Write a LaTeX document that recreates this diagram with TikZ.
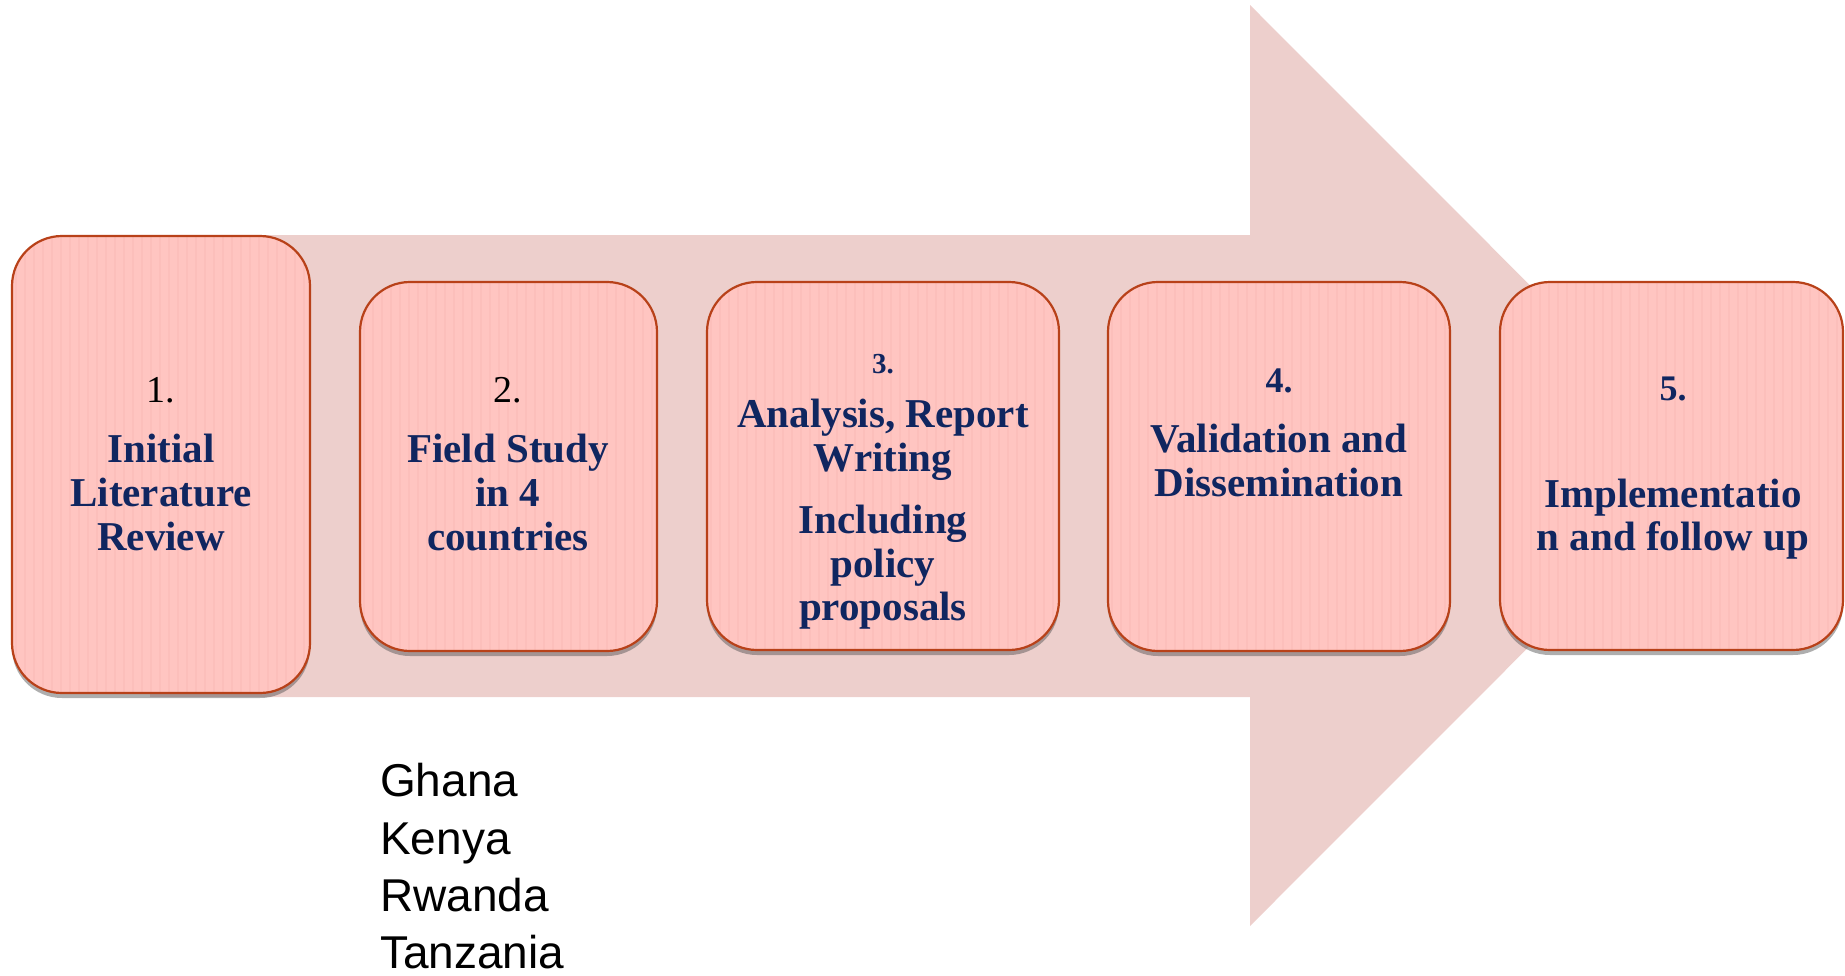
\documentclass[tikz,border=0pt]{standalone}
\usepackage{fontspec}
\setmainfont{Liberation Serif}
\newfontfamily\arialf{Liberation Sans}
\usetikzlibrary{shadows}
\definecolor{arrowfill}{RGB}{237,207,204}
\definecolor{boxfill}{RGB}{255,197,193}
\definecolor{stripecol}{RGB}{248,182,178}
\definecolor{boxborder}{RGB}{184,65,25}
\definecolor{navy}{RGB}{16,38,96}
\tikzset{
  stepbox/.style={rectangle, rounded corners=50pt, draw=boxborder, line width=2.2pt,
    fill=boxfill, inner sep=0pt,
    drop shadow={shadow xshift=0pt, shadow yshift=-5pt, opacity=0.45, fill=black!70},
    path picture={\foreach \i in {0,...,40}{\draw[stripecol, line width=1.2pt, opacity=0.35]
      ([xshift=\i*9pt+4pt]path picture bounding box.south west) -- ([xshift=\i*9pt+4pt]path picture bounding box.north west);}}},
  ttl/.style={anchor=base, inner sep=0pt, text=navy, font=\fontsize{41}{44}\selectfont\bfseries},
  numreg/.style={anchor=base, inner sep=0pt, text=black, font=\fontsize{38}{44}\selectfont},
  numbold/.style={anchor=base, inner sep=0pt, text=navy, font=\fontsize{36}{40}\selectfont\bfseries},
  country/.style={anchor=base west, inner sep=0pt, text=black, font=\arialf\fontsize{46}{57}\selectfont}
}
\begin{document}
\begin{tikzpicture}[x=1pt,y=-1pt]
\useasboundingbox (0,0) rectangle (1845,975);
% big arrow
\fill[arrowfill] (150,235) -- (1250,235) -- (1250,5) -- (1710,465.5) -- (1250,926) -- (1250,697) -- (150,697) -- cycle;
% boxes
\node[stepbox, minimum width=298pt, minimum height=457pt] (b1) at (161,464.5) {};
\node[stepbox, minimum width=297pt, minimum height=369pt] (b2) at (508.5,466.5) {};
\node[stepbox, minimum width=352pt, minimum height=368pt] (b3) at (883,466) {};
\node[stepbox, minimum width=342pt, minimum height=369pt] (b4) at (1279,466.5) {};
\node[stepbox, minimum width=343pt, minimum height=368pt] (b5) at (1671.5,466) {};
% box 1
\node[numreg] (n1) at (161,402) {1.};
\node[ttl] (t1a) at (161,462) {Initial};
\node[ttl] (t1b) at (161,506) {Literature};
\node[ttl] (t1c) at (161,550) {Review};
% box 2
\node[numreg] (n2) at (508,402) {2.};
\node[ttl] (t2a) at (508,462) {Field Study};
\node[ttl] (t2b) at (508,506) {in 4};
\node[ttl] (t2c) at (508,550) {countries};
% box 3
\node[numbold, font=\fontsize{29}{36}\selectfont\bfseries] (n3) at (883,373) {3.};
\node[ttl] (t3a) at (883,427) {Analysis, Report};
\node[ttl] (t3b) at (883,471) {Writing};
\node[ttl] (t3c) at (883,533) {Including};
\node[ttl] (t3d) at (883,577) {policy};
\node[ttl] (t3e) at (883,620) {proposals};
% box 4
\node[numbold] (n4) at (1279,392) {4.};
\node[ttl] (t4a) at (1279,452) {Validation and};
\node[ttl] (t4b) at (1279,496) {Dissemination};
% box 5
\node[numbold] (n5) at (1673,400) {5.};
\node[ttl] (t5a) at (1673,507) {Implementatio};
\node[ttl] (t5b) at (1673,550) {n and follow up};
% countries
\node[country] (c1) at (380,796) {Ghana};
\node[country] (c2) at (380,854) {Kenya};
\node[country] (c3) at (380,911) {Rwanda};
\node[country] (c4) at (380,968) {Tanzania};
\end{tikzpicture}
\end{document}
